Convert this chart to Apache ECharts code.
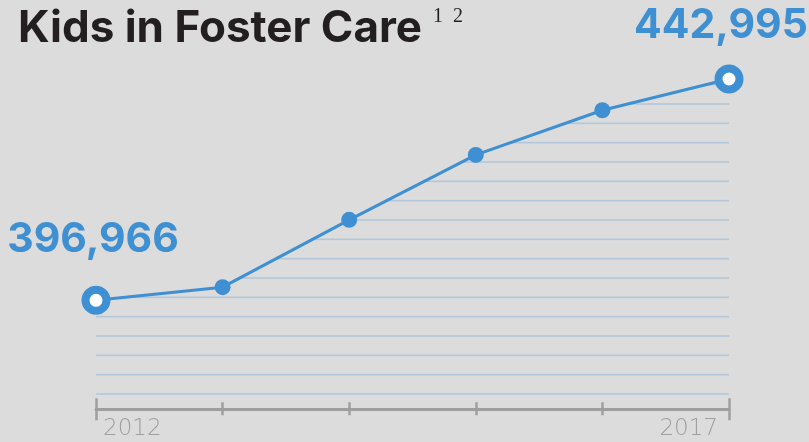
<!DOCTYPE html>
<html>
<head>
<meta charset="utf-8">
<script src="https://cdn.jsdelivr.net/npm/echarts@6/dist/echarts.min.js"></script>
<style>
html,body{margin:0;padding:0;background:#dcdcdc;}
#c{width:809px;height:442px;}
</style>
</head>
<body>
<div id="c"></div>
<script>
// Data
const years = ['2012', '2013', '2014', '2015', '2016', '2017'];
const kids = [396966, 399700, 413700, 427200, 436500, 442995];
const titleText = 'Kids in Foster Care';
const footnotes = ['1', '2'];

const BLUE = '#3e90d2';
const BG = '#dcdcdc';
const GREY = '#9f9f9f';
const STRIPE = '#b3c7da';

// Horizontal stripe pattern tile (period 58px = 3 stripes of 19.333px)
const tile = document.createElement('canvas');
tile.width = 4; tile.height = 58;
(function () {
  const ctx = tile.getContext('2d');
  ctx.fillStyle = STRIPE;
  [7.333, 26.667, 46].forEach(y => ctx.fillRect(0, y - 0.8, 4, 1.6));
})();

const last = kids.length - 1;
const lineData = kids.map((v, i) => {
  const isEnd = (i === 0 || i === last);
  if (!isEnd) return { value: v };
  return {
    value: v,
    symbolSize: 21,
    itemStyle: { color: '#ffffff', borderColor: BLUE, borderWidth: 8 },
    label: {
      show: true,
      position: 'top',
      distance: 0,
      offset: i === 0 ? [-3, -26] : [-8, -18],
      formatter: (p) => p.value.toLocaleString('en-US'),
      fontFamily: 'Inter',
      fontWeight: 700,
      fontSize: 41,
      color: BLUE
    }
  };
});

function makeX(extra) {
  return Object.assign({
    type: 'category',
    data: years,
    boundaryGap: false,
    position: 'bottom',
    offset: 9.3,
    axisLine: { show: true, lineStyle: { color: GREY, width: 2.5 } },
    axisLabel: { show: false },
    splitLine: { show: false }
  }, extra);
}

const chart = echarts.init(document.getElementById('c'), null, { renderer: 'canvas' });
chart.setOption({
  backgroundColor: BG,
  animation: false,
  title: [
    {
      text: titleText, left: 18, top: 7, padding: 0,
      textStyle: { fontFamily: 'Inter', fontWeight: 700, fontSize: 44, color: '#231f20' }
    },
    {
      text: footnotes.join('  '), left: 433, top: 7, padding: 0,
      textStyle: { fontFamily: 'Liberation Serif', fontWeight: 400, fontSize: 20, color: '#231f20' }
    }
  ],
  grid: { left: 96, right: 80, top: 104, bottom: 42, containLabel: false },
  xAxis: [
    makeX({
      axisTick: { show: true, inside: true, length: 7, lineStyle: { color: GREY, width: 2.5 } },
      axisLabel: {
        show: true, interval: 0, margin: 8,
        alignMinLabel: 'left', alignMaxLabel: 'right',
        formatter: (val, idx) => idx === 0 ? '{l|' + val + '}' : (idx === years.length - 1 ? '{r|' + val + '}' : ''),
        rich: {
          l: { fontFamily: 'DejaVu Sans', fontWeight: 200, fontSize: 23, color: GREY, padding: [0, 0, 0, 7] },
          r: { fontFamily: 'DejaVu Sans', fontWeight: 200, fontSize: 23, color: GREY, padding: [0, 11, 0, 0] }
        }
      }
    }),
    makeX({ axisTick: { show: true, inside: false, length: 6, lineStyle: { color: GREY, width: 2.5 } } }),
    makeX({ axisTick: { show: true, inside: true, length: 11, interval: (i) => i === 0 || i === years.length - 1, lineStyle: { color: GREY, width: 2.5 } } }),
    makeX({ axisTick: { show: true, inside: false, length: 11, interval: (i) => i === 0 || i === years.length - 1, lineStyle: { color: GREY, width: 2.5 } } })
  ],
  yAxis: [
    { type: 'value', min: 376228, max: 437795, show: false }
  ],
  series: [
    {
      name: 'stripes',
      type: 'line',
      xAxisIndex: 0, yAxisIndex: 0,
      data: kids,
      clip: false,
      z: 3,
      symbol: 'none',
      lineStyle: { width: 0 },
      areaStyle: { color: { image: tile, repeat: 'repeat' }, opacity: 1, origin: 'start' },
      silent: true
    },
    {
      name: 'Kids in Foster Care',
      type: 'line',
      xAxisIndex: 0, yAxisIndex: 0,
      data: lineData,
      clip: false,
      z: 5,
      symbol: 'circle',
      symbolSize: 16,
      lineStyle: { color: BLUE, width: 3 },
      itemStyle: { color: BLUE },
      emphasis: { disabled: true }
    }
  ]
});
</script>
</body>
</html>
